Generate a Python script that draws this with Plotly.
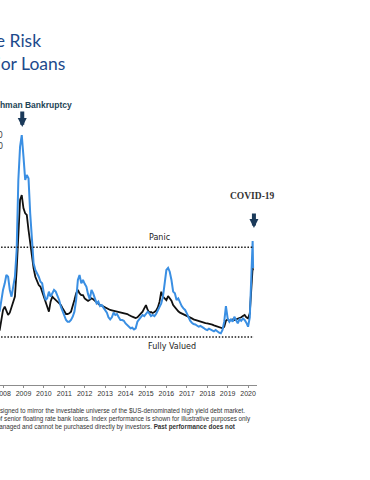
import pandas as pd
import plotly.graph_objects as go

# ---------------- data ----------------
dates = pd.date_range("2007-11-01", "2020-02-01", freq="MS").strftime("%Y-%m-%d").tolist() + ["2020-03-23", "2020-03-31"]

hy_spread = [
    522, 618,
    700, 754, 822, 808, 700, 645, 726, 808, 1027, 1599, 1872, 1967,
    1790, 1599, 1640, 1613, 1327, 1081, 918, 863, 836, 808, 767, 754,
    672, 618, 631, 686, 645, 672, 700, 686, 658, 618, 563, 522,
    495, 454, 440, 440, 454, 481, 522, 618, 781, 822, 754, 781,
    750, 725, 665, 625, 699, 672, 631, 590, 604, 568, 576, 557,
    536, 514, 476, 459, 476, 514, 495, 503, 476, 454, 454, 448,
    426, 413, 399, 386, 391, 377, 386, 440, 459, 476, 495, 486,
    508, 522, 508, 486, 495, 486, 503, 536, 557, 590, 645, 740,
    863, 880, 849, 781, 686, 672, 617, 631, 590, 568, 549, 536,
    508, 476, 448, 432, 421, 418, 410, 399, 405, 399, 388, 377,
    372, 383, 377, 372, 361, 372, 358, 350, 345, 372, 440, 568,
    467, 440, 459, 440, 481, 448, 426, 459, 448, 467, 454, 432,
    399, 476, 1100, 880,
]

loan_spread = [
    367, 440,
    536, 563, 522, 495, 514, 563, 590, 645, 863, 1217, 1436, 1476,
    1367, 1327, 1313, 1190, 1081, 986, 877, 808, 767, 740, 726, 686,
    631, 604, 563, 522, 604, 645, 631, 618, 604, 590, 577, 550,
    522, 503, 503, 509, 522, 563, 618, 672, 700, 672, 658, 658,
    631, 620, 610, 620, 631, 623, 612, 596, 585, 576, 571, 563,
    557, 549, 544, 536, 533, 530, 527, 522, 519, 516, 514, 511,
    508, 503, 495, 486, 481, 476, 470, 476, 492, 508, 522, 549,
    576, 536, 514, 519, 511, 519, 530, 557, 604, 685, 645, 631,
    617, 650, 631, 612, 576, 557, 536, 525, 514, 508, 503, 495,
    486, 481, 476, 467, 459, 454, 448, 443, 440, 437, 432, 429,
    426, 424, 421, 416, 410, 405, 399, 394, 388, 386, 399, 448,
    459, 448, 454, 459, 454, 459, 465, 467, 476, 486, 495, 476,
    467, 508, 880, 860,
]

panic_level = 1050
fully_valued_level = 315
level_end = "2020-04-15"

title_lines = ["Assessing Relative Risk", "in High Yield and Senior Loans"]
legend_notes = ["HY spread peak: 2,000", "Loan spread peak: 1,500"]
footnote_lines = [
    "The ICE BofA US High Yield Index is designed to mirror the investable universe of the $US-denominated high yield debt market.",
    "The S&P/LSTA Leveraged Loan Index measures the performance of senior floating rate bank loans. Index performance is shown for illustrative purposes only",
    "and does not reflect fees. Indices are unmanaged and cannot be purchased directly by investors. <b>Past performance does not</b>",
]

# ---------------- figure ----------------
W, H = 370, 480
ML, MR, MT, MB = 0, 113, 100, 95
PW, PH = W - ML - MR, H - MT - MB


def px(xp):
    return (xp - ML) / PW


def py(yp):
    return (H - MB - yp) / PH


fig = go.Figure()
fig.add_trace(go.Scatter(x=dates, y=loan_spread, mode="lines",
                         line=dict(color="#111111", width=1.8), name="Loans"))
fig.add_trace(go.Scatter(x=dates, y=hy_spread, mode="lines",
                         line=dict(color="#3a8fe3", width=2), name="High Yield"))

for lvl in (panic_level, fully_valued_level):
    fig.add_shape(type="line", xref="x", yref="y", x0="2007-10-01", x1=level_end,
                  y0=lvl, y1=lvl, line=dict(color="#1a1a1a", width=1.5, dash="1.5px,1.7px"))

ann = []
# title (cropped on the left)
ann.append(dict(text=title_lines[0], xref="paper", yref="paper", x=px(43), y=py(40),
                xanchor="right", yanchor="middle", showarrow=False,
                font=dict(family="Lato", size=17.5, color="#1d4a8c")))
ann.append(dict(text=title_lines[1], xref="paper", yref="paper", x=px(67), y=py(63),
                xanchor="right", yanchor="middle", showarrow=False,
                font=dict(family="Lato", size=17.5, color="#1d4a8c")))
# legend notes (cropped)
for i, t in enumerate(legend_notes):
    ann.append(dict(text=t, xref="paper", yref="paper", x=px(5), y=py(135 + 11 * i),
                    xanchor="right", yanchor="middle", showarrow=False,
                    font=dict(family="DejaVu Sans", size=8, color="#444444")))
# Lehman
ann.append(dict(text="<b>Lehman Bankruptcy</b>", xref="paper", yref="paper", x=px(74), y=py(105),
                xanchor="right", yanchor="middle", showarrow=False,
                font=dict(family="Liberation Sans", size=8.5, color="#1e4456")))
ann.append(dict(text="", x="2008-12-10", y=2033, xref="x", yref="y", ax=0, ay=-17,
                showarrow=True, arrowhead=2, arrowsize=0.45, arrowwidth=4, arrowcolor="#1b3a5a"))
# COVID
ann.append(dict(text="<b>COVID-19</b>", x="2020-03-15", y=1468, xref="x", yref="y",
                xanchor="center", yanchor="middle", showarrow=False,
                font=dict(family="Liberation Serif", size=9.5, color="#333333")))
ann.append(dict(text="", x="2020-04-15", y=1207, xref="x", yref="y", ax=0, ay=-16,
                showarrow=True, arrowhead=2, arrowsize=0.45, arrowwidth=4, arrowcolor="#1b3a5a"))
# level labels
ann.append(dict(text="Panic", x="2015-09-08", y=1125, xref="x", yref="y",
                xanchor="center", yanchor="middle", showarrow=False,
                font=dict(family="DejaVu Sans", size=8, color="#222222")))
ann.append(dict(text="Fully Valued", x="2015-01-01", y=241, xref="x", yref="y",
                xanchor="left", yanchor="middle", showarrow=False,
                font=dict(family="DejaVu Sans", size=8, color="#222222")))
# footnotes
ends = [247, 253, 238]
for i, t in enumerate(footnote_lines):
    ann.append(dict(text=t, xref="paper", yref="paper", x=px(ends[i]), y=py(411 + 8.2 * i),
                    xanchor="right", yanchor="middle", showarrow=False,
                    font=dict(family="Liberation Sans", size=6.3, color="#333333")))

fig.update_layout(
    width=W, height=H,
    margin=dict(l=ML, r=MR, t=MT, b=MB, pad=0, autoexpand=False),
    paper_bgcolor="white", plot_bgcolor="white",
    showlegend=False,
    annotations=ann,
    xaxis=dict(type="date", range=["2007-11-08", "2020-06-09"], showline=True,
               linecolor="#8c8c8c", linewidth=1, ticks="outside", ticklen=2,
               tickcolor="#8c8c8c", dtick="M12", tick0="2008-01-01", tickformat="%Y",
               ticklabeloverflow="allow", automargin=False,
               tickfont=dict(family="Liberation Sans", size=7, color="#333333"),
               showgrid=False, zeroline=False),
    yaxis=dict(range=[-77.7, 2253.6], visible=False, showgrid=False, zeroline=False,
               automargin=False),
)

fig.write_html("out.html", config={"displayModeBar": False},
               post_script="document.body.style.margin='0';document.body.style.overflow='hidden';")
